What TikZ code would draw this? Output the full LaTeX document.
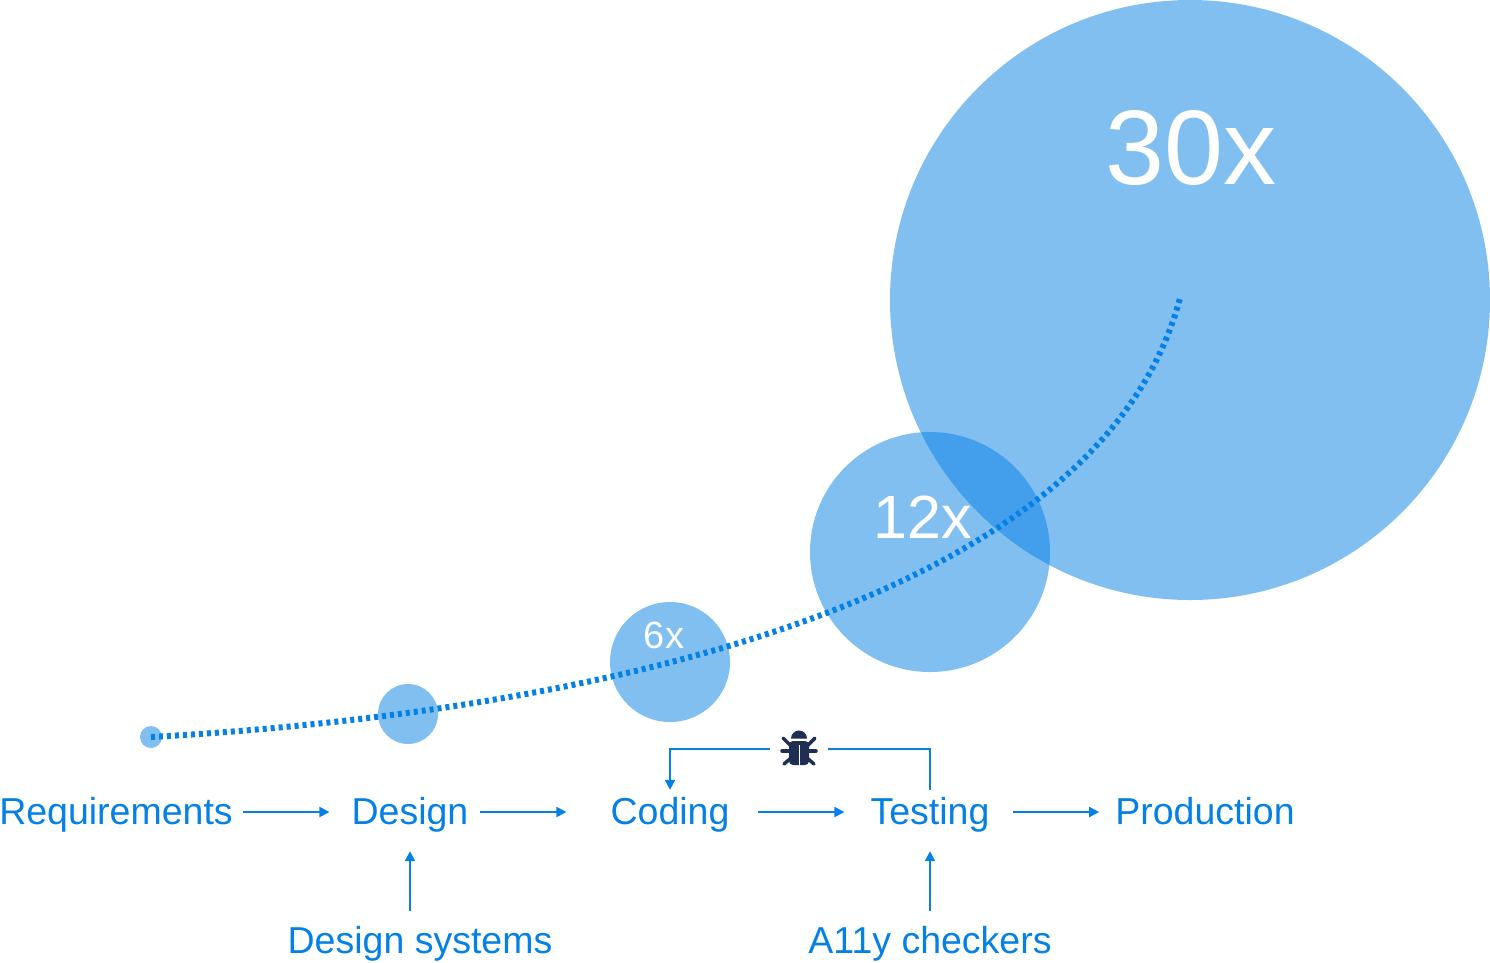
\documentclass[tikz,border=0pt]{standalone}
\usepackage{fontspec}
\setmainfont{Liberation Sans}
\usetikzlibrary{arrows.meta,positioning}
\definecolor{flow}{HTML}{0580E4}
\definecolor{bugc}{HTML}{1F2F54}
\tikzset{pin/.style={flow, line width=2pt, -{Triangle[length=10pt,width=10pt]}},
  lb/.style={flow, inner sep=0pt, anchor=base, text height=24pt, text depth=0pt, font=\fontsize{37.5}{42}\selectfont},
  val/.style={white, inner sep=0pt},
  blob/.style={circle, fill=flow, fill opacity=.5, inner sep=0pt},
  leg/.style={bugc, line width=3.5pt, line cap=round}}

\begin{document}
\begin{tikzpicture}[x=1pt,y=-1pt]
  \useasboundingbox (0,0) rectangle (1490,962);
  % cost circles
  \foreach \n/\x/\y/\d in {c1/151/737/22,c2/408/714/60,c3/670/662/120,c4/930/552/240,c5/1190/300/600}{
    \node[blob, minimum size=\d pt] (\n) at (\x,\y) {};}
  % growth curve
  \coordinate (cEnd) at (1180,298);
  \draw[flow, line width=6pt, dash pattern=on 4pt off 4pt] (c1.center) .. controls (600,712) and (1100,600) .. (cEnd);
  \node[val, font=\fontsize{38}{44}\selectfont] (v6) at (664,635) {6x};
  \node[val, font=\fontsize{61}{70}\selectfont] (v12) at (923,517) {12x};
  \node[val, font=\fontsize{106}{120}\selectfont] (v30) at (1191,148) {30x};
  % stages
  \foreach \n/\x/\t in {req/116/Requirements,des/410/Design,cod/670/Coding,tes/930/Testing,pro/1205/Production}{
    \node[lb] (\n) at (\x,824) {\t};}
  \node[lb] (dsys) at (420,953) {Design systems};
  \node[lb] (ally) at (930,953) {A11y checkers};
  \draw[pin, shorten <=10pt, shorten >=22pt] (req.east) -- (des.west);
  \draw[pin, shorten <=11pt, shorten >=44pt] (des.east) -- (cod.west);
  \draw[pin, shorten <=28pt, shorten >=26pt] (cod.east) -- (tes.west);
  \draw[pin, shorten <=23pt, shorten >=16pt] (tes.east) -- (pro.west);
  \draw[pin, shorten <=18pt, shorten >=27pt] (dsys.north -| des) -- (des.south);
  \draw[pin, shorten <=18pt, shorten >=27pt] (ally.north) -- (tes.south);
  % bug and its loop
  \node[minimum width=58pt, minimum height=40pt, inner sep=0pt] (bug) at (799,749) {};
  \draw[pin] (bug.west) -| ([yshift=10pt]cod.north);
  \draw[flow, line width=2pt, shorten <=10pt] (tes.north) |- (bug.east);
  \begin{scope}[shift={(bug.center)}]
    \fill[bugc] (-8,-10.5) arc[start angle=180, end angle=360, radius=8] -- cycle;
    \fill[bugc, rounded corners=4pt] (-10,-8) rectangle (10,16);
    \foreach \s in {-1,1}{
      \draw[leg] (\s*9,-4) -- (\s*16,-11);
      \draw[leg] (\s*9,2) -- (\s*17,2);
      \draw[leg] (\s*8,9) -- (\s*15,15);}
    \draw[white, line width=1pt] (0,-4) -- (0,16);
  \end{scope}
\end{tikzpicture}
\end{document}
